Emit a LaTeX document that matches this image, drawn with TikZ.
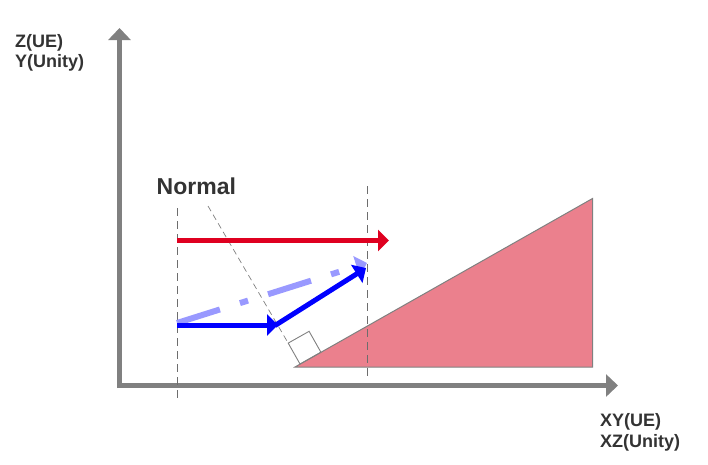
\documentclass[tikz,border=0pt]{standalone}
\usepackage{fontspec}
\setmainfont{Liberation Sans}
\usetikzlibrary{arrows.meta}

\definecolor{axisgray}{HTML}{808080}
\definecolor{textgray}{HTML}{333333}
\definecolor{rampfill}{HTML}{EB808D}
\definecolor{redvec}{HTML}{DF0020}
\definecolor{bluevec}{HTML}{0000FF}
\definecolor{lightvec}{HTML}{9999FF}

\tikzstyle{axis} = [line width=5pt, draw=axisgray, -{Triangle[width=22pt,length=12pt]}]
\tikzstyle{axislabel} = [font=\bfseries\fontsize{18}{20}\selectfont, text=textgray, inner sep=0pt]
\tikzstyle{guide} = [draw=axisgray!85!black, line width=0.9pt, dash pattern=on 8pt off 5pt]
\tikzstyle{normalline} = [draw=axisgray, line width=0.7pt, dash pattern=on 6pt off 4pt]
\tikzstyle{ramp} = [draw=axisgray, line width=1pt, fill=rampfill]
\tikzstyle{vector} = [line width=5pt, -{Triangle[width=21pt,length=11pt]}]

\begin{document}
\begin{tikzpicture}[x=1pt,y=-1pt]

\useasboundingbox (0,0) rectangle (708,464);

	%Axes
	\coordinate (Origin) at (119.5,388);
	\coordinate (ZTop) at (119.5,28);
	\coordinate (XStart) at (117,385.5);
	\coordinate (XEnd) at (618,385.5);
	\path[axis] (Origin) -- (ZTop);
	\path[axis] (XStart) -- (XEnd);

	\node[axislabel, anchor=base west](ZLabel) at (15,47) {Z(UE)};
	\node[axislabel, anchor=base west](YLabel) at (15,67) {Y(Unity)};
	\node[axislabel, anchor=base west](XYLabel) at (600,426.5) {XY(UE)};
	\node[axislabel, anchor=base west](XZLabel) at (600,447) {XZ(Unity)};

	%Slope
	\coordinate (RampLeft) at (295,367);
	\coordinate (RampTop) at (592.5,198.5);
	\coordinate (RampCorner) at (592.5,367);
	\path[ramp] (RampLeft) -- (RampTop) -- (RampCorner) -- cycle;

	%Guide lines
	\coordinate (LeftTop) at (177.5,208);
	\coordinate (LeftBottom) at (177.5,401);
	\coordinate (RightTop) at (367.5,186);
	\coordinate (RightBottom) at (367.5,379);
	\path[guide] (LeftTop) -- (LeftBottom);
	\path[guide] (RightTop) -- (RightBottom);

	%Normal with right angle mark
	\coordinate (Foot) at (300,364);
	\coordinate (SqA) at (320.9,352.2);
	\coordinate (SqB) at (309.1,331.3);
	\coordinate (SqC) at (288.2,343.1);
	\coordinate (NormalTop) at (208,206);
	\path[normalline] (NormalTop) -- (SqC);
	\path[draw=axisgray, line width=0.9pt] (Foot) -- (SqA) -- (SqB) -- (SqC) -- cycle;
	\node[font=\bfseries\fontsize{23}{26}\selectfont, text=textgray, inner sep=0pt, anchor=base west](Normal) at (156.5,194.5) {Normal};

	%Vectors
	\coordinate (RedStart) at (177,240.5);
	\coordinate (RedEnd) at (389,240.5);
	\coordinate (BlueStart) at (177,325);
	\coordinate (BlueBend) at (278,325);
	\coordinate (BlueKnee) at (275,325.5);
	\coordinate (BlueEnd) at (366,268);
	\coordinate (LightStart) at (177,323);
	\coordinate (LightEnd) at (367,263);
	\path[vector, draw=redvec] (RedStart) -- (RedEnd);
	\path[vector, draw=lightvec, line width=6pt, dash pattern=on 45pt off 21pt on 8.5pt off 21pt] (LightStart) -- (LightEnd);
	\path[vector, draw=bluevec] (BlueStart) -- (BlueBend);
	\path[vector, draw=bluevec] (BlueKnee) -- (BlueEnd);

\end{tikzpicture}
\end{document}
